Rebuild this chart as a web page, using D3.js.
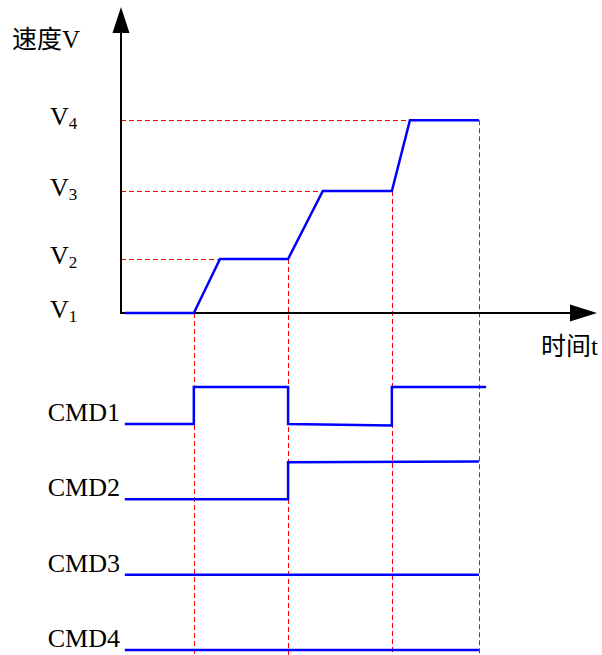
<!DOCTYPE html>
<html><head><meta charset="utf-8">
<script src="https://cdn.jsdelivr.net/npm/d3@7/dist/d3.min.js"></script>
<style>
html,body{margin:0;padding:0;background:#fff;}
text{font-family:"Liberation Serif","Times New Roman","Noto Sans CJK SC",serif;fill:#000;}
</style></head>
<body>
<svg id="c" width="602" height="655"></svg>
<script>
// ---- data ----
const levelNames = ["1","2","3","4"];           // V subscripts
const levelValues = [0, 1.0, 2.26, 3.57];        // speed levels V1..V4
const speedTimes = [0.08, 1.53, 2.08, 3.51, 4.24, 5.69, 6.07, 7.52];
const speedValues = [0, 0, 1.0, 1.0, 2.26, 2.26, 3.57, 3.57];
const switchTimes = [1.53, 3.51, 5.69, 7.52];    // vertical guide times
const switchLevels = [0, 1.0, 2.26, 3.57];       // speed at each guide
const levelReachTimes = [0, 2.08, 4.24, 6.07];   // where each level is reached
const cmdNames = ["CMD1","CMD2","CMD3","CMD4"];
const cmd1Times = [0.08, 1.53, 1.53, 3.51, 3.51, 5.69, 5.69, 7.67];
const cmd1Values = [0, 0, 1, 1, 0, -0.04, 1, 1];
const cmd2Times = [0.08, 3.51, 3.51, 7.52];
const cmd2Values = [0, 0, 1, 1.02];
const cmd3Times = [0.08, 7.52];
const cmd3Values = [0, 0];
const cmd4Times = [0.08, 7.52];
const cmd4Values = [0, 0];
const yAxisLabel = "速度V";
const xAxisLabel = "时间t";

// ---- scales ----
const svg = d3.select("#c");
const x = d3.scaleLinear().domain([0, 10]).range([121, 597]);
const y = d3.scaleLinear().domain([0, 5.65]).range([313, 8]);
const lane = d3.scalePoint().domain(cmdNames).range([424, 650]);
const sig = d3.scaleLinear().domain([0, 1]).range([0, -37]);

const red = "#ff0000", blue = "#0000ff";
const crisp = v => Math.round(v) + 0.5;

// horizontal dashed guides
svg.append("g").selectAll("line").data(levelValues.slice(1)).join("line")
  .attr("x1", x(0)).attr("x2", (d,i) => x(levelReachTimes[i+1]))
  .attr("y1", d => crisp(y(d))).attr("y2", d => crisp(y(d)))
  .attr("stroke", red).attr("stroke-width", 1).attr("stroke-dasharray", "5,3");

// vertical dashed guides
svg.append("g").selectAll("line").data(switchTimes).join("line")
  .attr("x1", d => crisp(x(d))).attr("x2", d => crisp(x(d)))
  .attr("y1", (d,i) => y(switchLevels[i])).attr("y2", 655)
  .attr("stroke", red).attr("stroke-width", 1).attr("stroke-dasharray", "5,3");

// axes
svg.append("line").attr("x1", x(0)).attr("x2", x(0)).attr("y1", y(0)).attr("y2", 30)
  .attr("stroke", "#000").attr("stroke-width", 2);
svg.append("line").attr("x1", x(0)-1).attr("x2", 573).attr("y1", y(0)).attr("y2", y(0))
  .attr("stroke", "#000").attr("stroke-width", 2);
svg.append("path").attr("d", `M${x(0)},7 L${x(0)-8.5},33 L${x(0)+8.5},33 Z`).attr("fill", "#000");
svg.append("path").attr("d", `M597,${y(0)} L570,${y(0)-8.5} L570,${y(0)+8.5} Z`).attr("fill", "#000");

// speed line
const sLine = d3.line().x(d => x(d[0])).y(d => y(d[1]));
svg.append("path").datum(d3.zip(speedTimes, speedValues)).attr("d", sLine)
  .attr("fill", "none").attr("stroke", blue).attr("stroke-width", 2.5).attr("stroke-linejoin", "miter");

// CMD signals
const cmdSeries = [[cmd1Times, cmd1Values],[cmd2Times, cmd2Values],[cmd3Times, cmd3Values],[cmd4Times, cmd4Values]];
cmdSeries.forEach((s, i) => {
  const base = lane(cmdNames[i]);
  const l = d3.line().x(d => x(d[0])).y(d => base + sig(d[1]));
  svg.append("path").datum(d3.zip(s[0], s[1])).attr("d", l)
    .attr("fill", "none").attr("stroke", blue).attr("stroke-width", 2.5);
});

// labels
svg.append("text").attr("x", 12).attr("y", 48).attr("font-size", 25).text(yAxisLabel);
svg.append("text").attr("x", 541).attr("y", 355).attr("font-size", 25).text(xAxisLabel);
levelValues.forEach((v, i) => {
  const t = svg.append("text").attr("x", 50).attr("y", y(v) + 4.5).attr("font-size", 26);
  t.append("tspan").text("V");
  t.append("tspan").attr("font-size", 17).attr("dy", 4).text(levelNames[i]);
});
cmdNames.forEach(n => {
  svg.append("text").attr("x", 120).attr("y", lane(n) - 3).attr("text-anchor", "end")
    .attr("font-size", 26).text(n);
});
</script>
</body></html>
